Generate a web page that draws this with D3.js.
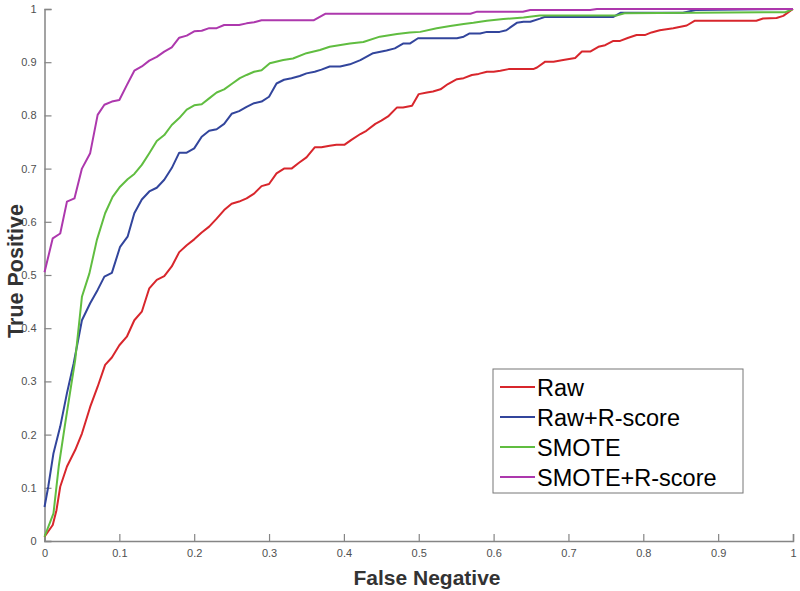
<!DOCTYPE html>
<html>
<head>
<meta charset="utf-8">
<script src="https://cdn.jsdelivr.net/npm/d3@7"></script>
<style>
body { margin: 0; background: #fff; }
svg { display: block; font-family: "Liberation Sans", Arial, sans-serif; }
</style>
</head>
<body>
<div id="chart"></div>
<script>
// ROC points [false negative, true positive]
var raw = [[0,0.008],[0.011,0.030],[0.016,0.058],[0.021,0.102],[0.030,0.140],[0.041,0.171],[0.050,0.202],[0.061,0.252],[0.071,0.290],[0.081,0.331],[0.090,0.345],[0.100,0.368],[0.110,0.384],[0.120,0.415],[0.130,0.431],[0.140,0.475],[0.150,0.491],[0.160,0.498],[0.170,0.516],[0.180,0.543],[0.190,0.556],[0.200,0.567],[0.210,0.580],[0.220,0.591],[0.230,0.606],[0.240,0.622],[0.250,0.634],[0.260,0.638],[0.270,0.644],[0.280,0.653],[0.290,0.667],[0.300,0.671],[0.310,0.691],[0.320,0.700],[0.330,0.700],[0.340,0.711],[0.350,0.721],[0.361,0.740],[0.370,0.740],[0.381,0.743],[0.390,0.745],[0.401,0.745],[0.410,0.754],[0.422,0.765],[0.430,0.771],[0.442,0.784],[0.450,0.790],[0.459,0.798],[0.471,0.815],[0.479,0.815],[0.491,0.818],[0.500,0.840],[0.511,0.843],[0.519,0.845],[0.529,0.849],[0.539,0.859],[0.551,0.868],[0.560,0.870],[0.571,0.876],[0.580,0.878],[0.591,0.882],[0.600,0.882],[0.609,0.884],[0.620,0.887],[0.653,0.887],[0.658,0.890],[0.669,0.901],[0.680,0.901],[0.693,0.904],[0.709,0.908],[0.718,0.920],[0.729,0.920],[0.740,0.929],[0.749,0.932],[0.760,0.940],[0.769,0.940],[0.780,0.946],[0.791,0.951],[0.802,0.951],[0.811,0.956],[0.822,0.960],[0.840,0.964],[0.858,0.969],[0.869,0.978],[0.951,0.978],[0.960,0.982],[0.978,0.983],[0.987,0.987],[1,1]];

var rawR = [[0,0.064],[0.005,0.102],[0.012,0.165],[0.021,0.215],[0.030,0.278],[0.039,0.334],[0.050,0.415],[0.061,0.447],[0.071,0.472],[0.080,0.497],[0.090,0.504],[0.101,0.553],[0.111,0.572],[0.120,0.616],[0.130,0.642],[0.140,0.657],[0.150,0.664],[0.160,0.679],[0.170,0.701],[0.180,0.730],[0.190,0.730],[0.200,0.738],[0.210,0.760],[0.220,0.771],[0.230,0.774],[0.240,0.784],[0.250,0.803],[0.260,0.808],[0.270,0.816],[0.280,0.823],[0.290,0.826],[0.300,0.835],[0.310,0.860],[0.320,0.867],[0.330,0.870],[0.341,0.874],[0.350,0.879],[0.361,0.882],[0.370,0.886],[0.381,0.892],[0.395,0.892],[0.408,0.896],[0.422,0.904],[0.439,0.917],[0.457,0.922],[0.468,0.926],[0.479,0.935],[0.488,0.935],[0.499,0.945],[0.551,0.945],[0.560,0.948],[0.568,0.954],[0.582,0.954],[0.591,0.957],[0.608,0.957],[0.617,0.960],[0.631,0.974],[0.640,0.976],[0.649,0.976],[0.662,0.982],[0.668,0.985],[0.760,0.985],[0.770,0.993],[0.853,0.993],[0.870,0.998],[1,1]];

var smote = [[0,0.008],[0.012,0.052],[0.019,0.140],[0.027,0.215],[0.036,0.296],[0.041,0.340],[0.050,0.459],[0.060,0.503],[0.070,0.566],[0.081,0.616],[0.091,0.647],[0.101,0.666],[0.111,0.680],[0.120,0.690],[0.130,0.707],[0.140,0.729],[0.150,0.752],[0.160,0.763],[0.170,0.782],[0.180,0.795],[0.190,0.811],[0.200,0.819],[0.210,0.821],[0.220,0.832],[0.230,0.843],[0.240,0.849],[0.250,0.859],[0.261,0.870],[0.270,0.876],[0.280,0.882],[0.290,0.885],[0.301,0.898],[0.319,0.904],[0.332,0.907],[0.350,0.917],[0.368,0.923],[0.381,0.929],[0.408,0.935],[0.426,0.938],[0.448,0.948],[0.471,0.953],[0.488,0.956],[0.502,0.957],[0.524,0.964],[0.542,0.968],[0.560,0.972],[0.573,0.974],[0.591,0.978],[0.613,0.981],[0.640,0.984],[0.662,0.988],[0.765,0.988],[0.775,0.992],[0.990,0.994],[1,1]];

var smoteR = [[0,0.505],[0.011,0.569],[0.021,0.578],[0.030,0.638],[0.040,0.644],[0.050,0.700],[0.061,0.729],[0.071,0.801],[0.080,0.820],[0.090,0.826],[0.100,0.829],[0.110,0.857],[0.120,0.884],[0.130,0.892],[0.140,0.903],[0.150,0.910],[0.160,0.920],[0.170,0.928],[0.180,0.946],[0.190,0.950],[0.200,0.958],[0.210,0.959],[0.220,0.964],[0.230,0.964],[0.240,0.970],[0.260,0.970],[0.270,0.973],[0.280,0.975],[0.290,0.979],[0.360,0.979],[0.375,0.991],[0.569,0.991],[0.578,0.995],[0.639,0.995],[0.649,0.998],[0.729,0.998],[0.738,1],[1,1]];

var seriesNames = ["Raw", "Raw+R-score", "SMOTE", "SMOTE+R-score"];
var seriesColors = ["#d8262c", "#32459c", "#60bd40", "#ad38ad"];
var ticks = [0, 0.1, 0.2, 0.3, 0.4, 0.5, 0.6, 0.7, 0.8, 0.9, 1];

var W = 800, H = 591;
var margin = {left: 44.5, top: 9, right: 7, bottom: 50};
var w = W - margin.left - margin.right;
var h = H - margin.top - margin.bottom;

var svg = d3.select("#chart").append("svg")
	.attr("width", W)
	.attr("height", H);

var g = svg.append("g")
	.attr("transform", "translate(" + margin.left + "," + margin.top + ")");

var x = d3.scaleLinear().domain([0, 1]).range([0, w]);
var y = d3.scaleLinear().domain([0, 1]).range([h, 0]);
var fmt = d3.format("~g");

// MATLAB style: ticks point inward
var xAxis = g.append("g")
	.attr("transform", "translate(0," + h + ")")
	.call(d3.axisBottom(x).tickValues(ticks).tickFormat(fmt).tickSize(-7).tickPadding(8));
var yAxis = g.append("g")
	.call(d3.axisLeft(y).tickValues(ticks).tickFormat(fmt).tickSize(-7).tickPadding(8));

[xAxis, yAxis].forEach(function (a) {
	a.select(".domain").attr("stroke", "#858585").attr("stroke-width", 1.5);
	a.selectAll(".tick line").attr("stroke", "#858585").attr("stroke-width", 1.2);
	a.selectAll(".tick text").attr("fill", "#505050").style("font-size", "11px")
		.style("font-family", "'Liberation Sans', Arial, sans-serif");
});

var line = d3.line()
	.x(function (d) { return x(d[0]); })
	.y(function (d) { return y(d[1]); });

[raw, rawR, smote, smoteR].forEach(function (s, i) {
	g.append("path")
		.datum(s)
		.attr("fill", "none")
		.attr("stroke", seriesColors[i])
		.attr("stroke-width", 2)
		.attr("stroke-linejoin", "round")
		.attr("d", line);
});

// axis titles
svg.append("text")
	.attr("x", 427)
	.attr("y", 585)
	.attr("text-anchor", "middle")
	.style("font-size", "21px")
	.style("font-weight", "bold")
	.attr("fill", "#333")
	.text("False Negative");

svg.append("text")
	.attr("transform", "translate(23," + 271 + ") rotate(-90)")
	.attr("text-anchor", "middle")
	.style("font-size", "21.5px")
	.style("font-weight", "bold")
	.attr("fill", "#333")
	.text("True Positive");

// legend
var legend = svg.append("g").attr("transform", "translate(493,369)");
legend.append("rect")
	.attr("width", 250)
	.attr("height", 124)
	.attr("fill", "#fff")
	.attr("stroke", "#777")
	.attr("stroke-width", 1);

var item = legend.selectAll(".item")
	.data(seriesNames)
	.enter()
	.append("g")
	.attr("transform", function (d, i) { return "translate(0," + (18 + i * 30) + ")"; });

item.append("line")
	.attr("x1", 7).attr("x2", 42)
	.attr("stroke", function (d, i) { return seriesColors[i]; })
	.attr("stroke-width", 2);

item.append("text")
	.attr("x", 44)
	.attr("y", 8.5)
	.style("font-size", "23.5px")
	.attr("fill", "#000")
	.text(function (d) { return d; });
</script>
</body>
</html>
